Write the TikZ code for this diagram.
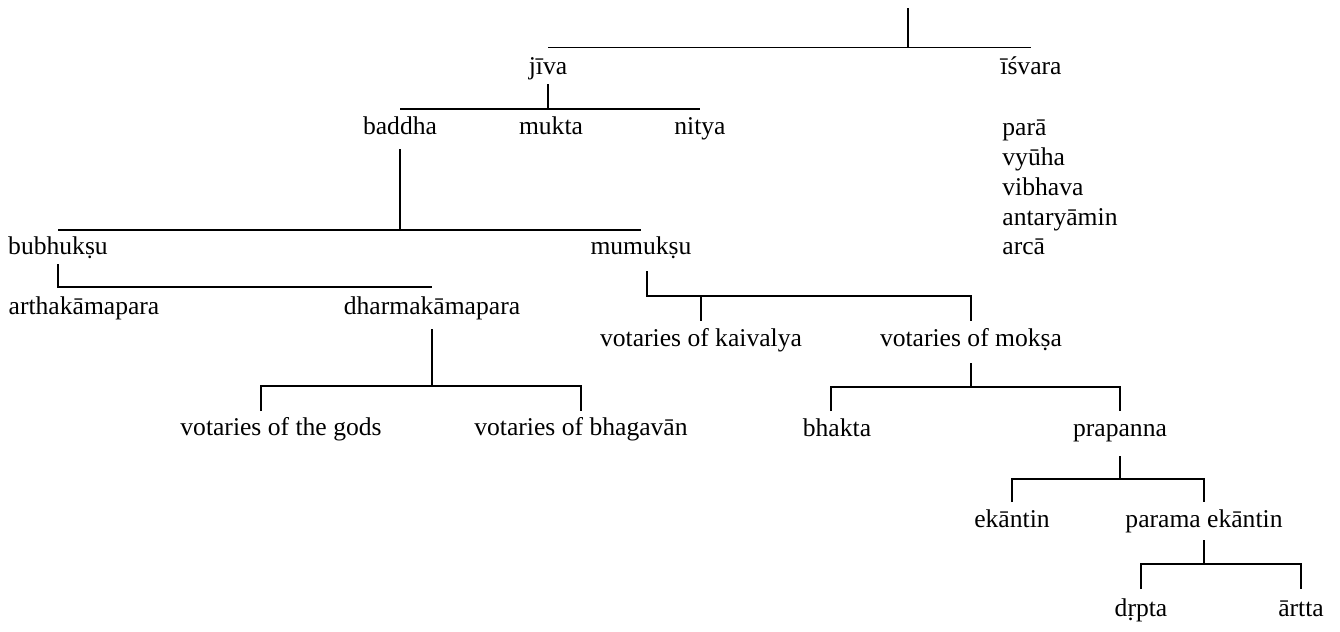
\documentclass[tikz,border=0pt]{standalone}
\usepackage{fontspec}
\setmainfont{Liberation Serif}
\tikzstyle{term} = [
    inner sep=0pt,
    anchor=base,
    font=\fontsize{12.8}{15}\selectfont
]
\tikzstyle{termleft} = [term, anchor=base west]
\tikzstyle{branch} = [line width=0.8pt]

\begin{document}
\begin{tikzpicture}[x=0.5pt, y=-0.5pt]
\useasboundingbox (0,0) rectangle (1340,632);

\coordinate (root) at (907.7,8);

\node (jiva) [term] at (548,74) {jīva};
\node (isvara) [termleft] at (1000,74) {īśvara};

\node (baddha) [term] at (400,134) {baddha};
\node (mukta) [term] at (551,134) {mukta};
\node (nitya) [term] at (700,134) {nitya};

\node (para) [termleft] at (1002,135) {parā};
\node (vyuha) [termleft] at (1002,165) {vyūha};
\node (vibhava) [termleft] at (1002,195) {vibhava};
\node (antaryamin) [termleft] at (1002,225) {antaryāmin};
\node (arca) [termleft] at (1002,254) {arcā};

\node (bubhuksu) [term] at (58,254) {bubhukṣu};
\node (mumuksu) [term] at (641,254) {mumukṣu};

\node (arthakamapara) [term] at (84,314) {arthakāmapara};
\node (dharmakamapara) [term] at (432,314) {dharmakāmapara};

\node (kaivalya) [term] at (701,346) {votaries of kaivalya};
\node (moksa) [term] at (971,346) {votaries of mokṣa};

\node (gods) [term] at (281,435) {votaries of the gods};
\node (bhagavan) [term] at (581,435) {votaries of bhagavān};

\node (bhakta) [term] at (837,436) {bhakta};
\node (prapanna) [term] at (1120,436) {prapanna};

\node (ekantin) [term] at (1012,527) {ekāntin};
\node (parama) [term] at (1204,527) {parama ekāntin};

\node (drpta) [term] at (1141,616) {dṛpta};
\node (artta) [term] at (1301,616) {ārtta};

% top
\draw [branch] (root) -- (root |- 0,47.6);
\draw [branch] (jiva |- 0,47.6) -- (isvara |- 0,47.6);

% jiva
\draw [branch] (jiva |- 0,84) -- (jiva |- 0,109);
\draw [branch] (baddha |- 0,109) -- (nitya |- 0,109);

% baddha
\draw [branch] (baddha |- 0,149) -- (baddha |- 0,230);
\draw [branch] (bubhuksu |- 0,230) -- (mumuksu |- 0,230);

% bubhuksu
\draw [branch] (bubhuksu |- 0,264) -- (bubhuksu |- 0,287) -- (dharmakamapara |- 0,287);

% dharmakamapara
\draw [branch] (dharmakamapara |- 0,329) -- (dharmakamapara |- 0,386);
\draw [branch] (261,411) -- (261,386) -- (bhagavan |- 0,386) -- (bhagavan |- 0,411);

% mumuksu
\draw [branch] (647,271) -- (647,296) -- (moksa |- 0,296) -- (moksa |- 0,320.5);
\draw [branch] (kaivalya |- 0,296) -- (kaivalya |- 0,320.5);

% moksa
\draw [branch] (moksa |- 0,363) -- (moksa |- 0,387);
\draw [branch] (831,411) -- (831,387) -- (prapanna |- 0,387) -- (prapanna |- 0,411);

% prapanna
\draw [branch] (prapanna |- 0,456) -- (prapanna |- 0,479);
\draw [branch] (ekantin |- 0,502) -- (ekantin |- 0,479) -- (parama |- 0,479) -- (parama |- 0,502);

% parama ekantin
\draw [branch] (parama |- 0,540) -- (parama |- 0,564);
\draw [branch] (drpta |- 0,589) -- (drpta |- 0,564) -- (artta |- 0,564) -- (artta |- 0,589);

\end{tikzpicture}
\end{document}
